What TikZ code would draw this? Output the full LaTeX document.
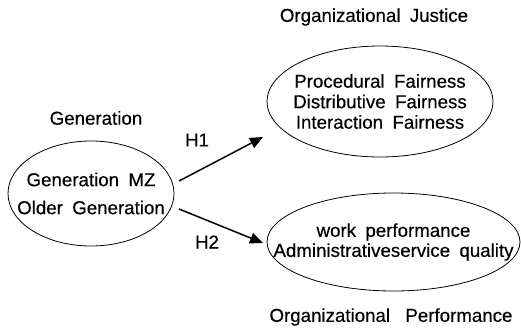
\documentclass[tikz,border=0pt]{standalone}
\usepackage{fontspec}
\setmainfont{Liberation Sans}[WordSpace={1.8,1,1},FakeBold=0.4]
\usetikzlibrary{shapes.geometric,arrows.meta}
\begin{document}
\begin{tikzpicture}[x=1pt,y=-1pt,
  oval/.style={draw,ellipse,line width=0.8pt,inner sep=0pt},
  txt/.style={align=center,inner sep=0pt},
  lbl/.style={font=\fontsize{18.7}{21}\selectfont},
  arr/.style={line width=1.5pt,-{Triangle[length=13pt,width=11pt]}}]
\useasboundingbox (0,0) rectangle (521,329);
\node[oval,minimum width=166pt,minimum height=105pt] (gen) at (91,193.5) {};
\node[oval,minimum width=226pt,minimum height=111pt] (oj) at (380,101.5) {};
\node[oval,minimum width=253pt,minimum height=98pt] (op) at (393.5,242) {};
\node[txt,font=\fontsize{18.7}{28}\selectfont] (gent) at (gen.center) {Generation MZ\\Older Generation};
\node[txt,font=\fontsize{18.7}{20.5}\selectfont] (ojt) at (oj.center) {Procedural Fairness\\Distributive Fairness\\Interaction Fairness};
\node[txt,font=\fontsize{18.7}{20}\selectfont] (opt) at (op.center) {work performance\\Administrativeservice quality};
\node[lbl] (genl) at (96,118) {Generation};
\node[lbl] (ojl) at (374,17) {Organizational Justice};
\node[lbl] (opl) at (391,317) {Organizational\hspace{6pt} Performance};
\node[lbl] (h1) at (197,140) {H1};
\node[lbl] (h2) at (207,242) {H2};
\coordinate (s1) at (179,181);
\coordinate (e1) at (263,137);
\coordinate (s2) at (179,209);
\coordinate (e2) at (263,243);
\draw[arr] (s1) -- (e1);
\draw[arr] (s2) -- (e2);
\end{tikzpicture}
\end{document}
